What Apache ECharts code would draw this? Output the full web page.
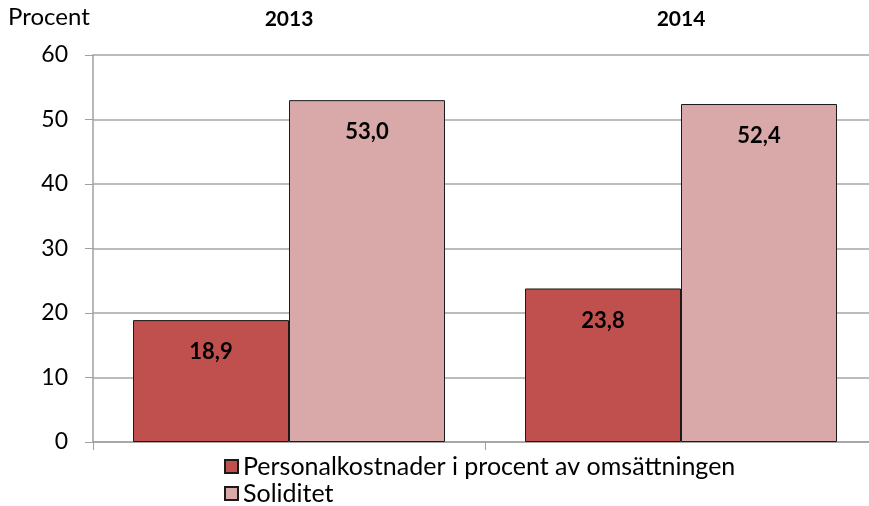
<!DOCTYPE html>
<html>
<head>
<meta charset="utf-8">
<script src="https://cdn.jsdelivr.net/npm/echarts@6/dist/echarts.min.js"></script>
<style>
  html, body { margin: 0; padding: 0; background: #fff; overflow: hidden; }
  #main { width: 880px; height: 506px; }
</style>
</head>
<body>
<div id="main"></div>
<script>
// kategorier och värden
var years = ['2013', '2014']
var personalkostnader = [18.9, 23.8]
var soliditet = [53.0, 52.4]
var seriesNames = ['Personalkostnader i procent av omsättningen', 'Soliditet']
var yTicks = [0, 10, 20, 30, 40, 50, 60]

var font = 'Lato'
var chart = echarts.init(document.getElementById('main'))

function fmt (p) {
  return p.value.toFixed(1).replace('.', ',')
}

var labelStyle = {
  show: true,
  position: 'insideTop',
  distance: 21,
  formatter: fmt,
  fontFamily: font,
  fontWeight: 'bold',
  fontSize: 22,
  color: '#000'
}

chart.setOption({
  animation: false,
  title: {
    text: 'Procent',
    left: 8,
    top: 5,
    padding: 0,
    textStyle: { fontFamily: font, fontWeight: 'normal', fontSize: 24, color: '#000' }
  },
  legend: {
    orient: 'vertical',
    left: 224,
    top: 454,
    padding: 0,
    itemWidth: 13,
    itemHeight: 13,
    itemGap: 2,
    icon: 'rect',
    selectedMode: false,
    textStyle: { fontFamily: font, fontSize: 25, lineHeight: 25, color: '#000' },
    data: seriesNames
  },
  grid: { left: 93, top: 55, width: 784, height: 387 },
  xAxis: [
    {
      type: 'category',
      data: years,
      position: 'bottom',
      axisLine: { show: true, lineStyle: { color: '#a0a0a0', width: 1.5 } },
      axisTick: { show: true, length: 8, lineStyle: { color: '#a0a0a0' } },
      axisLabel: { show: false }
    },
    {
      type: 'category',
      data: years,
      position: 'top',
      axisLine: { show: false },
      axisTick: { show: false },
      axisLabel: { show: true, margin: 25, fontFamily: font, fontWeight: 'bold', fontSize: 21, color: '#000' }
    }
  ],
  yAxis: {
    type: 'value',
    min: yTicks[0],
    max: yTicks[yTicks.length - 1],
    interval: 10,
    axisLine: { show: true, lineStyle: { color: '#a0a0a0', width: 1.5 } },
    axisTick: { show: true, inside: false, length: 8, lineStyle: { color: '#a0a0a0' } },
    axisLabel: { margin: 25, fontFamily: font, fontSize: 23, color: '#000' },
    splitLine: { show: true, lineStyle: { color: '#a6a6a6', width: 1.5 } }
  },
  series: [
    {
      name: seriesNames[0],
      type: 'bar',
      xAxisIndex: 0,
      data: personalkostnader,
      barWidth: 156,
      barGap: '0%',
      itemStyle: { color: '#C0504D', borderColor: '#1a1a1a', borderWidth: 1 },
      label: labelStyle
    },
    {
      name: seriesNames[1],
      type: 'bar',
      xAxisIndex: 0,
      data: soliditet,
      barWidth: 156,
      barGap: '0%',
      itemStyle: { color: '#D9A9A9', borderColor: '#1a1a1a', borderWidth: 1 },
      label: labelStyle
    }
  ]
})
</script>
</body>
</html>
